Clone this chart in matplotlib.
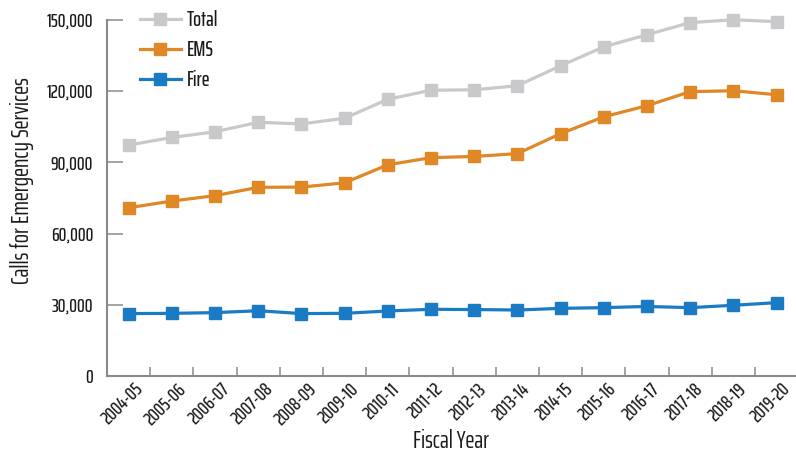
import matplotlib
matplotlib.use("Agg")
import matplotlib.pyplot as plt
from matplotlib.ticker import FixedLocator, FuncFormatter
from matplotlib.transforms import ScaledTranslation

plt.rcParams['font.family'] = ['Saira ExtraCondensed', 'DejaVu Sans']
plt.rcParams['font.weight'] = 500

years = ["2004-05", "2005-06", "2006-07", "2007-08", "2008-09", "2009-10", "2010-11", "2011-12",
         "2012-13", "2013-14", "2014-15", "2015-16", "2016-17", "2017-18", "2018-19", "2019-20"]
total = [97300, 100500, 102900, 106900, 106200, 108600, 116600, 120400,
         120600, 122300, 130700, 138700, 143800, 148900, 150100, 149300]
ems = [70900, 73700, 76000, 79500, 79600, 81400, 89000, 92000,
       92500, 93700, 102100, 109200, 113900, 119800, 120200, 118500]
fire = [26300, 26400, 26700, 27500, 26300, 26400, 27400, 28100,
        28000, 27800, 28500, 28800, 29300, 28800, 29800, 30900]
y_ticks = [0, 30000, 60000, 90000, 120000, 150000]

series = [("Total", total, "#c9c9cb"), ("EMS", ems, "#e08826"), ("Fire", fire, "#1a7bc4")]

fig = plt.figure(figsize=(7.96, 4.57), dpi=100)
ax = fig.add_axes([107 / 796, 1 - 376 / 457, 689 / 796, 356 / 457])

x = list(range(len(years)))
for name, vals, col in series:
    ax.plot(x, vals, color=col, lw=2.3, marker='s', markersize=8.8, markerfacecolor=col,
            markeredgecolor=col, label=name, clip_on=False, zorder=3)

ax.set_xlim(-0.5, 15.45)
ax.set_ylim(0, 150000)

spine_col = "#8a8a8a"
txt_col = "#1a1a1a"
for s in ["top", "right"]:
    ax.spines[s].set_visible(False)
for s in ["left", "bottom"]:
    ax.spines[s].set_color(spine_col)
    ax.spines[s].set_linewidth(1.5)

ax.yaxis.set_major_locator(FixedLocator(y_ticks))
ax.yaxis.set_major_formatter(FuncFormatter(lambda v, p: f"{int(v):,}"))
ax.tick_params(axis='y', direction='in', length=11.5, width=1.1, color=spine_col,
               pad=10, labelsize=14, labelcolor=txt_col)

ax.set_xticks(x)
ax.set_xticklabels(years, rotation=45, ha='center')
ax.set_xticks([i + 0.5 for i in range(len(years) - 1)], minor=True)
ax.tick_params(axis='x', which='major', length=0, pad=3, labelsize=14, labelcolor=txt_col)
ax.tick_params(axis='x', which='minor', direction='in', length=6.5, width=1.1, color=spine_col)
off = ScaledTranslation(-6 / 100, 0, fig.dpi_scale_trans)
for lbl in ax.get_xticklabels():
    lbl.set_transform(lbl.get_transform() + off)

ax.set_xlabel("Fiscal Year", fontsize=17.5, color=txt_col)
ax.xaxis.set_label_coords(0.5, -0.15)
ax.set_ylabel("Calls for Emergency Services", fontsize=17.5, color=txt_col)
ax.yaxis.set_label_coords(-0.106, 0.55)

leg = ax.legend(loc='upper left', bbox_to_anchor=(140 / 796, 1 - 10 / 457), bbox_transform=fig.transFigure,
                frameon=False, fontsize=15, handlelength=1.95, handletextpad=0.3, labelspacing=0.48,
                borderaxespad=0, borderpad=0)
for t in leg.get_texts():
    t.set_color(txt_col)

fig.savefig("out.png", dpi=100)
